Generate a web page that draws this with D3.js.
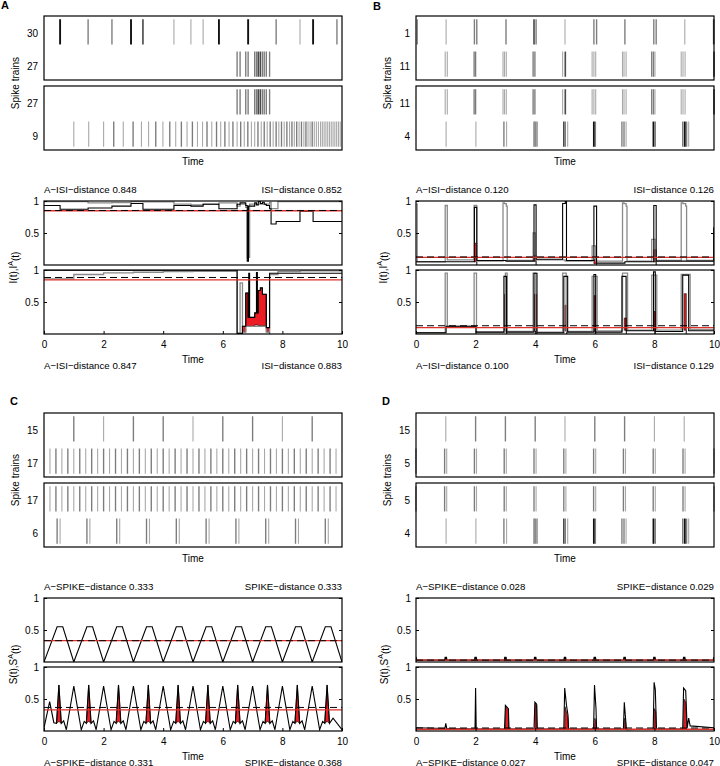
<!DOCTYPE html>
<html><head><meta charset="utf-8">
<script src="https://cdn.jsdelivr.net/npm/d3@7"></script>
<style>
body{margin:0;background:#fff}
svg{display:block}
text{font-family:"Liberation Sans",Arial,Helvetica,sans-serif;fill:#000}
</style>
</head><body>
<svg id="c" width="720" height="766"></svg>
<script>
// ---------------- DATA ----------------
// spike trains: [time, number of overlapping trains]
const trainsA = ["30", "27", "9"];
const trainsB = ["1", "11", "4"];
const trainsC = ["15", "17", "6"];
const trainsD = ["15", "5", "4"];

const spA30 = [[0.54,4],[1.48,2],[2.28,2],[2.92,4],[3.32,3],[4.36,1],[4.93,1],[5.34,1],[5.87,4],[6.85,4],[7.79,2],[8.59,1],[9.03,4],[9.83,2]];
const spA27 = [[6.48,2],[6.58,2],[6.77,2],[6.85,2],[7.07,2],[7.13,2],[7.19,3],[7.26,3],[7.33,2],[7.39,2],[7.46,2],[7.57,2]];
const spA9 = [[1.0,1],[1.5,1],[2.0,1],[2.34,2],[2.66,1],[2.99,2],[3.27,1],[3.51,1],[3.75,2],[3.99,1],[4.22,2],[4.42,1],[4.61,2],[4.8,1],[4.98,2],[5.15,1],[5.32,1],[5.47,2],[5.63,1],[5.79,2],[5.93,1],[6.07,2],[6.21,1],[6.34,2],[6.48,1],[6.6,2],[6.72,1],[6.84,2],[6.96,1],[7.07,1],[7.18,2],[7.29,1],[7.39,2],[7.49,1],[7.59,2],[7.69,1],[7.79,2],[7.88,1],[7.97,2],[8.06,1],[8.15,2],[8.24,1],[8.32,2],[8.4,1],[8.48,2],[8.56,1],[8.64,2],[8.72,1],[8.79,2],[8.86,1],[8.93,1],[9.0,2],[9.07,1],[9.14,1],[9.21,1],[9.28,1],[9.34,1],[9.4,1],[9.46,1],[9.52,1],[9.58,1],[9.64,1],[9.7,1],[9.76,1],[9.82,1],[9.88,1],[9.94,1]];

const spB1 = [[0.04,2],[1.01,1],[1.96,2],[2.04,2],[3.02,2],[3.96,3],[4.03,2],[5.0,1],[5.97,2],[6.06,2],[7.01,2],[7.98,2],[8.06,2],[9.02,1],[9.99,3]];
const spB11 = [[0.98,1],[1.05,1],[1.95,2],[2.0,2],[2.92,1],[2.97,1],[3.03,1],[3.93,2],[3.99,2],[4.92,1],[5.01,3],[5.91,1],[5.97,1],[6.03,1],[6.93,1],[6.98,1],[7.05,1],[7.91,2],[7.97,2],[8.02,1],[8.9,1],[8.96,1],[9.03,1],[10.0,3]];
const spB4 = [[1.01,1],[2.01,1],[2.95,2],[3.04,1],[3.96,2],[4.0,2],[4.06,2],[4.96,3],[5.01,2],[5.09,1],[5.97,4],[6.02,2],[6.91,2],[6.98,2],[7.05,1],[7.97,4],[8.03,2],[8.95,2],[9.02,4],[9.08,2],[9.15,1]];

const spC15 = [[1,2],[2,1],[3,2],[4,2],[5,1],[6,2],[7,2],[8,1],[9,2]];
const spC17 = [[0.2,1],[0.4,2],[0.6,1],[0.8,2],[1.0,1],[1.2,2],[1.4,1],[1.6,2],[1.8,1],[2.0,2],[2.2,1],[2.4,2],[2.6,1],[2.8,2],[3.0,1],[3.2,2],[3.4,1],[3.6,2],[3.8,1],[4.0,2],[4.2,1],[4.4,2],[4.6,1],[4.8,2],[5.0,1],[5.2,2],[5.4,1],[5.6,2],[5.8,1],[6.0,2],[6.2,1],[6.4,2],[6.6,1],[6.8,2],[7.0,1],[7.2,2],[7.4,1],[7.6,2],[7.8,1],[8.0,2],[8.2,1],[8.4,2],[8.6,1],[8.8,2],[9.0,1],[9.2,2],[9.4,1],[9.6,2],[9.8,1]];
const spC6 = [[0.44,2],[0.54,1],[1.44,2],[1.54,1],[2.44,2],[2.54,1],[3.44,2],[3.54,1],[4.44,2],[4.54,1],[5.44,2],[5.54,1],[6.44,2],[6.54,1],[7.44,2],[7.54,1],[8.44,2],[8.54,1],[9.44,2],[9.54,1]];

const spD15 = [[1,1],[2,2],[3,2],[4,2],[5,1],[6,2],[7,2],[8,1],[9,1]];
const spD5 = [[0.0,2],[0.96,2],[1.03,1],[1.96,2],[2.03,1],[2.96,2],[3.03,1],[3.96,2],[4.03,1],[4.96,2],[5.03,1],[5.96,2],[6.03,1],[6.96,2],[7.03,1],[7.96,2],[8.03,1],[8.96,2],[9.03,1],[10.0,2]];
const spD4 = [[1.01,1],[2.01,1],[2.95,2],[3.04,1],[3.96,2],[4.0,2],[4.06,2],[4.96,3],[5.01,2],[5.09,1],[5.97,4],[6.02,2],[6.91,2],[6.98,2],[7.05,1],[7.97,4],[8.03,2],[8.95,2],[9.02,4],[9.08,2],[9.15,1]];

// dissimilarity profiles [time, value]; red fills [time, low, high]
const profA1Black = [[0,0.93],[0.54,0.87],[1.48,0.89],[2.28,0.92],[2.92,0.96],[3.32,0.87],[4.36,0.93],[4.93,0.92],[5.34,0.95],[5.87,0.88],[6.48,0.95],[6.58,0.97],[6.77,0.93],[6.82,0.06],[6.86,0.92],[7.07,0.97],[7.13,0.94],[7.19,0.99],[7.26,0.96],[7.33,0.98],[7.39,0.95],[7.46,0.93],[7.57,0.88],[7.62,0.64],[7.79,0.68],[8.59,0.84],[9.03,0.68],[10,0.68]];
const profA1Grey = [[0,0.99],[0.54,0.99],[1.48,0.97],[2.28,0.975],[2.92,0.99],[3.32,0.985],[4.36,0.95],[4.93,0.94],[5.34,0.95],[5.87,0.97],[6.48,0.92],[6.58,0.95],[6.77,0.9],[6.85,0.12],[6.9,0.95],[7.57,0.98],[7.62,0.88],[7.85,0.99],[10,0.99]];
const redA1 = [[[6.82,0.1,0.85],[6.86,0.1,0.85]]];

const profA2Black = [[0,0.995],[6.48,0.01],[6.66,0.12],[6.77,0.64],[6.85,0.26],[6.87,0.95],[6.9,0.26],[7.07,0.33],[7.13,0.96],[7.16,0.33],[7.19,0.68],[7.26,0.72],[7.33,0.62],[7.46,0.1],[7.57,0.95],[10,0.95]];
const profA2Grey = [[0,0.86],[1.0,0.93],[2.0,0.955],[3.0,0.965],[4.0,0.975],[5.0,0.98],[6.48,0.01],[6.58,0.8],[6.66,0.03],[6.77,0.12],[7.46,0.03],[7.57,0.93],[7.85,0.975],[8.6,0.985],[10,0.985]];
const redA2 = [[[6.66,0.03,0.12],[6.77,0.12,0.64],[6.85,0.12,0.26],[7.07,0.14,0.33],[7.19,0.13,0.68],[7.26,0.13,0.72],[7.33,0.13,0.62],[7.46,0.03,0.1],[7.57,0,0]]];

const profB1Black = [[0,0.05],[1.0,0.05],[1.96,0.9],[2.04,0.07],[3.02,0.06],[3.96,0.94],[4.03,0.09],[4.92,0.96],[5.01,1.0],[5.05,0.07],[5.97,0.92],[6.06,0.03],[7.01,0.05],[7.98,0.93],[8.06,0.06],[9.02,0.06],[9.99,0.58],[10,0.58]];
const profB1Grey = [[0,0.95],[0.04,0.05],[0.98,0.93],[1.05,0.08],[1.95,0.93],[2.04,0.06],[2.92,0.97],[2.97,0.96],[3.03,0.92],[3.06,0.07],[3.93,0.5],[4.0,0.08],[5.0,0.06],[5.91,0.3],[6.03,0.06],[6.93,0.97],[6.98,0.96],[7.05,0.92],[7.08,0.06],[7.91,0.4],[8.02,0.07],[8.9,0.97],[8.96,0.96],[9.05,0.92],[9.08,0.07],[10,0.07]];
const redB1 = [[[1.96,0.05,0.34],[2.04,0,0]],[[3.96,0.06,0.15],[4.03,0,0]],[[5.97,0.02,0.08],[6.06,0,0]],[[7.98,0.05,0.24],[8.06,0,0]]];

const profB2Black = [[0,0.02],[1.01,0.12],[2.01,0.03],[2.95,0.9],[3.04,0.03],[3.96,0.95],[4.06,0.02],[4.96,0.9],[5.09,0.03],[5.97,0.93],[6.03,0.03],[6.91,0.9],[7.05,0.05],[7.97,0.97],[8.03,0.04],[8.95,0.92],[9.15,0.05],[10,0.05]];
const profB2Grey = [[0,0.02],[0.98,0.95],[1.05,0.12],[1.95,0.95],[2.03,0.03],[3.0,0.95],[3.06,0.04],[3.93,0.95],[4.02,0.03],[4.92,0.95],[5.04,0.04],[5.91,0.9],[6.08,0.05],[6.93,0.95],[7.1,0.06],[7.91,0.92],[8.08,0.06],[8.9,0.93],[9.2,0.07],[10,0.07]];
const redB2 = [[[2.97,0.05,0.62],[3.04,0,0]],[[3.98,0.04,0.62],[4.05,0,0]],[[5.0,0.05,0.45],[5.06,0,0]],[[5.98,0.04,0.6],[6.03,0,0]],[[6.99,0.06,0.25],[7.06,0,0]],[[7.98,0.05,0.35],[8.03,0,0]],[[9.0,0.06,0.63],[9.07,0,0]]];

const profC1Black = [[0,0],[0.44,0.55],[0.63,0.55],[1,0],[1.44,0.55],[1.63,0.55],[2,0],[2.44,0.55],[2.63,0.55],[3,0],[3.44,0.55],[3.63,0.55],[4,0],[4.44,0.55],[4.63,0.55],[5,0],[5.44,0.55],[5.63,0.55],[6,0],[6.44,0.55],[6.63,0.55],[7,0],[7.44,0.55],[7.63,0.55],[8,0],[8.44,0.55],[8.63,0.55],[9,0],[9.44,0.55],[9.63,0.55],[10,0]];
const profC1Grey = [];
const redC1 = [];

const profC2Black = [[0,0.05],[0.19,0.46],[0.33,0.13],[0.42,0.12],[0.5,0.72],[0.58,0.12],[0.66,0.16],[0.75,0.02],[1,0.7],[1.25,0.02],[1.35,0.15],[1.42,0.12],[1.5,0.72],[1.58,0.12],[1.66,0.16],[1.75,0.02],[2,0.7],[2.25,0.02],[2.35,0.15],[2.42,0.12],[2.5,0.72],[2.58,0.12],[2.66,0.16],[2.75,0.02],[3,0.7],[3.25,0.02],[3.35,0.15],[3.42,0.12],[3.5,0.72],[3.58,0.12],[3.66,0.16],[3.75,0.02],[4,0.7],[4.25,0.02],[4.35,0.15],[4.42,0.12],[4.5,0.72],[4.58,0.12],[4.66,0.16],[4.75,0.02],[5,0.7],[5.25,0.02],[5.35,0.15],[5.42,0.12],[5.5,0.72],[5.58,0.12],[5.66,0.16],[5.75,0.02],[6,0.7],[6.25,0.02],[6.35,0.15],[6.42,0.12],[6.5,0.72],[6.58,0.12],[6.66,0.16],[6.75,0.02],[7,0.7],[7.25,0.02],[7.35,0.15],[7.42,0.12],[7.5,0.72],[7.58,0.12],[7.66,0.16],[7.75,0.02],[8,0.7],[8.25,0.02],[8.35,0.15],[8.42,0.12],[8.5,0.72],[8.58,0.12],[8.66,0.16],[8.75,0.02],[9,0.7],[9.25,0.02],[9.35,0.15],[9.42,0.12],[9.5,0.72],[9.58,0.12],[9.7,0.2],[10,0.02]];
const profC2Grey = [];
const redC2 = [
 [[0.42,0.12,0.12],[0.5,0.15,0.72],[0.58,0.12,0.12]],
 [[1.42,0.12,0.12],[1.5,0.15,0.72],[1.58,0.12,0.12]],
 [[2.42,0.12,0.12],[2.5,0.15,0.72],[2.58,0.12,0.12]],
 [[3.42,0.12,0.12],[3.5,0.15,0.72],[3.58,0.12,0.12]],
 [[4.42,0.12,0.12],[4.5,0.15,0.72],[4.58,0.12,0.12]],
 [[5.42,0.12,0.12],[5.5,0.15,0.72],[5.58,0.12,0.12]],
 [[6.42,0.12,0.12],[6.5,0.15,0.72],[6.58,0.12,0.12]],
 [[7.42,0.12,0.12],[7.5,0.15,0.72],[7.58,0.12,0.12]],
 [[8.42,0.12,0.12],[8.5,0.15,0.72],[8.58,0.12,0.12]],
 [[9.42,0.12,0.12],[9.5,0.15,0.72],[9.58,0.12,0.12]]
];

const profD1Black = [[0,0.08],[0.03,0.03],[0.96,0.03],[0.98,0.08],[1.0,0.02],[1.02,0.08],[1.04,0.03],[1.96,0.03],[1.98,0.08],[2.0,0.02],[2.02,0.08],[2.04,0.03],[2.96,0.03],[2.98,0.08],[3.0,0.02],[3.02,0.08],[3.04,0.03],[3.96,0.03],[3.98,0.08],[4.0,0.02],[4.02,0.08],[4.04,0.03],[4.96,0.03],[4.98,0.08],[5.0,0.02],[5.02,0.08],[5.04,0.03],[5.96,0.03],[5.98,0.08],[6.0,0.02],[6.02,0.08],[6.04,0.03],[6.96,0.03],[6.98,0.08],[7.0,0.02],[7.02,0.08],[7.04,0.03],[7.96,0.03],[7.98,0.08],[8.0,0.02],[8.02,0.08],[8.04,0.03],[8.96,0.03],[8.98,0.08],[9.0,0.02],[9.02,0.08],[9.04,0.03],[9.97,0.03],[10,0.08]];
const profD1Grey = [];
const redD1 = [];

const profD2Black = [[0,0.05],[0.97,0.04],[1.0,0.12],[1.03,0.04],[1.98,0.03],[2.0,0.67],[2.02,0.03],[2.97,0.03],[3.0,0.4],[3.1,0.35],[3.12,0.03],[3.96,0.03],[3.99,0.45],[4.05,0.42],[4.07,0.03],[4.96,0.03],[4.99,0.67],[5.05,0.4],[5.1,0.25],[5.12,0.03],[5.96,0.03],[5.99,0.72],[6.04,0.35],[6.06,0.03],[6.96,0.03],[6.99,0.45],[7.04,0.15],[7.06,0.02],[7.96,0.03],[7.99,0.76],[8.03,0.65],[8.07,0.03],[8.95,0.03],[8.98,0.67],[9.05,0.63],[9.1,0.05],[9.15,0.2],[9.2,0.08],[10,0.05]];
const profD2Grey = [];
const redD2 = [
 [[3.0,0.03,0.03],[3.01,0.03,0.38],[3.1,0.03,0.33],[3.11,0.03,0.03]],
 [[3.99,0.03,0.03],[4.0,0.03,0.42],[4.05,0.03,0.4],[4.06,0.03,0.03]],
 [[4.99,0.03,0.03],[5.0,0.03,0.38],[5.05,0.03,0.3],[5.1,0.03,0.2],[5.11,0.03,0.03]],
 [[5.99,0.03,0.03],[6.0,0.03,0.2],[6.04,0.03,0.15],[6.05,0.03,0.03]],
 [[6.99,0.03,0.03],[7.0,0.03,0.2],[7.04,0.03,0.12],[7.05,0.03,0.03]],
 [[7.99,0.03,0.03],[8.0,0.03,0.35],[8.05,0.03,0.3],[8.06,0.03,0.03]],
 [[8.98,0.03,0.03],[8.99,0.03,0.5],[9.05,0.03,0.45],[9.09,0.03,0.03]]
];

// distances: [adaptive, standard] for upper and lower profile
const distA = [[0.848, 0.852], [0.847, 0.883]];
const distB = [[0.120, 0.126], [0.100, 0.129]];
const distC = [[0.333, 0.333], [0.331, 0.368]];
const distD = [[0.028, 0.029], [0.027, 0.047]];

const timeTicks = [0, 2, 4, 6, 8, 10];
const profTicks = [0.5, 1];

// ---------------- LAYOUT ----------------
const panels = [
  {letter:"A", lx:1, ly:9, x0:44, y0:16, ylx:30.5, measure:"ISI", sym:"I",
   raster:[[spA30, spA27],[spA27, spA9]], names:[[trainsA[0],trainsA[1]],[trainsA[1],trainsA[2]]],
   prof:[{black:profA1Black, grey:profA1Grey, red:redA1, d:distA[0]},{black:profA2Black, grey:profA2Grey, red:redA2, d:distA[1]}]},
  {letter:"B", lx:373, ly:10, x0:416, y0:16, ylx:33, measure:"ISI", sym:"I",
   raster:[[spB1, spB11],[spB11, spB4]], names:[[trainsB[0],trainsB[1]],[trainsB[1],trainsB[2]]],
   prof:[{black:profB1Black, grey:profB1Grey, red:redB1, d:distB[0]},{black:profB2Black, grey:profB2Grey, red:redB2, d:distB[1]}]},
  {letter:"C", lx:10, ly:405, x0:44, y0:413, ylx:30.5, measure:"SPIKE", sym:"S",
   raster:[[spC15, spC17],[spC17, spC6]], names:[[trainsC[0],trainsC[1]],[trainsC[1],trainsC[2]]],
   prof:[{black:profC1Black, grey:profC1Grey, red:redC1, d:distC[0]},{black:profC2Black, grey:profC2Grey, red:redC2, d:distC[1]}]},
  {letter:"D", lx:382, ly:405, x0:416, y0:413, ylx:32, measure:"SPIKE", sym:"S",
   raster:[[spD15, spD5],[spD5, spD4]], names:[[trainsD[0],trainsD[1]],[trainsD[1],trainsD[2]]],
   prof:[{black:profD1Black, grey:profD1Grey, red:redD1, d:distD[0]},{black:profD2Black, grey:profD2Grey, red:redD2, d:distD[1]}]}
];

const W = 298, RH = 64, PH = 64;
const svg = d3.select("#c");
const shade = d3.scaleLinear().domain([1,2,3,4]).range(["#a9a9a9","#7c7c7c","#4a4a4a","#111111"]);
const widthS = d3.scaleLinear().domain([1,4]).range([1.1,1.9]);
const fmt = d3.format(".3f");
const MINUS = "\u2212";
let clipId = 0;

panels.forEach(p => {
  const x = d3.scaleLinear().domain([0,10]).range([p.x0, p.x0 + W]);
  const g = svg.append("g");
  g.append("text").attr("x", p.lx).attr("y", p.ly).attr("font-size", 11).attr("font-weight", "bold").text(p.letter);

  // raster
  p.raster.forEach((pair, i) => {
    const top = p.y0 + i * 70;
    const band = d3.scaleBand().domain([0,1]).range([top, top + RH]).paddingInner(0.22).paddingOuter(0.1);
    pair.forEach((spikes, j) => {
      g.append("g").selectAll("line").data(spikes).join("line")
        .attr("x1", d => x(d[0])).attr("x2", d => x(d[0]))
        .attr("y1", band(j)).attr("y2", band(j) + band.bandwidth())
        .attr("stroke", d => shade(d[1])).attr("stroke-width", d => widthS(d[1]));
      g.append("text").attr("x", p.x0 - 6).attr("y", band(j) + band.bandwidth()/2 + 2)
        .attr("dy", "0.35em").attr("text-anchor", "end").attr("font-size", 10).text(p.names[i][j]);
    });
    g.append("rect").attr("x", p.x0).attr("y", top).attr("width", W).attr("height", RH)
      .attr("fill", "none").attr("stroke", "#000").attr("stroke-width", 1.2);
  });
  g.append("text").attr("transform", `translate(${p.x0 - 29},${p.y0 + 67}) rotate(-90)`)
    .attr("dy", "0.35em").attr("text-anchor", "middle").attr("font-size", 10).text("Spike trains");
  g.append("text").attr("x", p.x0 + W/2).attr("y", p.y0 + 148.5).attr("text-anchor", "middle")
    .attr("font-size", 10).text("Time");

  // profiles
  const curve = p.measure === "ISI" ? d3.curveStepAfter : d3.curveLinear;
  p.prof.forEach((pr, i) => {
    const top = p.y0 + 185 + i * 69;
    const y = d3.scaleLinear().domain([0,1]).range([top + PH, top]);
    const id = "clip" + (clipId++);
    svg.append("clipPath").attr("id", id).append("rect").attr("x", p.x0).attr("y", top).attr("width", W).attr("height", PH);
    const pg = g.append("g").attr("clip-path", `url(#${id})`);
    const area = d3.area().x(d => x(d[0])).y0(d => y(d[1])).y1(d => y(d[2])).curve(curve);
    const line = d3.line().x(d => x(d[0])).y(d => y(d[1])).curve(curve);
    pr.red.forEach(seg => pg.append("path").attr("d", area(seg)).attr("fill", "#ec1c24").attr("stroke", "#000").attr("stroke-width", 0.6));
    if (pr.grey.length) pg.append("path").attr("d", line(pr.grey)).attr("fill", "none").attr("stroke", "#8a8a8a").attr("stroke-width", 1.3);
    pg.append("path").attr("d", line(pr.black)).attr("fill", "none").attr("stroke", "#000").attr("stroke-width", 1.1);
    pg.append("line").attr("x1", x(0)).attr("x2", x(10)).attr("y1", y(pr.d[0])).attr("y2", y(pr.d[0]))
      .attr("stroke", "#e0302a").attr("stroke-width", 1.3);
    pg.append("line").attr("x1", x(0)).attr("x2", x(10)).attr("y1", y(pr.d[1])).attr("y2", y(pr.d[1]))
      .attr("stroke", "#000").attr("stroke-width", 1).attr("stroke-dasharray", "7,4");
    g.append("rect").attr("x", p.x0).attr("y", top).attr("width", W).attr("height", PH)
      .attr("fill", "none").attr("stroke", "#000").attr("stroke-width", 1.2);
    const ax = g.append("g").attr("transform", `translate(${p.x0},0)`)
      .call(d3.axisLeft(y).tickValues(profTicks).tickSize(-3).tickPadding(5).tickFormat(d => d === 1 ? "1" : d3.format(".1f")(d)));
    ax.select(".domain").remove();
    ax.selectAll("text").attr("font-size", 10).attr("font-family", null);
    const ax2 = g.append("g").attr("transform", `translate(${p.x0 + W},0)`)
      .call(d3.axisRight(y).tickValues(profTicks).tickSize(-3).tickFormat(""));
    ax2.select(".domain").remove();
    // distance labels
    const ly = i === 0 ? p.y0 + 177 : p.y0 + 352.5;
    g.append("text").attr("x", p.x0).attr("y", ly).attr("font-size", 9.7)
      .text(`A${MINUS}${p.measure}${MINUS}distance ${fmt(pr.d[0])}`);
    g.append("text").attr("x", p.x0 + W).attr("y", ly).attr("font-size", 9.7).attr("text-anchor", "end")
      .text(`${p.measure}${MINUS}distance ${fmt(pr.d[1])}`);
    if (i === 1) {
      const xa = g.append("g").attr("transform", `translate(0,${top + PH})`)
        .call(d3.axisBottom(x).tickValues(timeTicks).tickSize(-3).tickPadding(6.5));
      xa.select(".domain").remove();
      xa.selectAll("text").attr("font-size", 10).attr("font-family", null);
    }
  });
  const yl = g.append("text").attr("transform", `translate(${p.x0 - p.ylx},${p.y0 + 251.5}) rotate(-90)`)
    .attr("dy", "0.35em").attr("text-anchor", "middle").attr("font-size", 10);
  yl.append("tspan").text(`${p.sym}(t),${p.sym}`);
  yl.append("tspan").attr("font-size", 7).attr("dy", "-0.6em").text("A");
  yl.append("tspan").attr("dy", "0.6em").text("(t)");
  g.append("text").attr("x", p.x0 + W/2).attr("y", p.y0 + 346.5).attr("text-anchor", "middle")
    .attr("font-size", 10).text("Time");
});
</script>
</body></html>
